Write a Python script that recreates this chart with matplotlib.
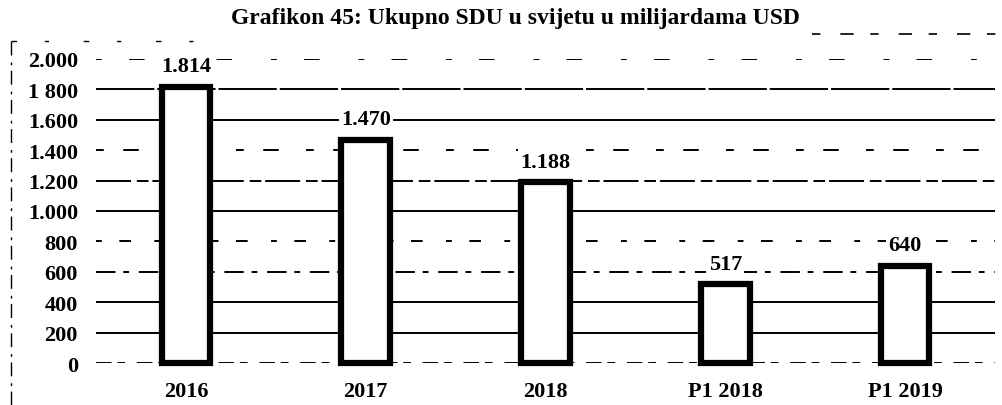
import matplotlib.pyplot as plt
from matplotlib.lines import Line2D

# Ukupno SDU u svijetu (milijarde USD)
kategorije = ['2016', '2017', '2018', 'P1 2018', 'P1 2019']
vrijednosti = [1814, 1470, 1188, 517, 640]
oznake = ['1.814', '1.470', '1.188', '517', '640']
y_podjela = [0, 200, 400, 600, 800, 1000, 1200, 1400, 1600, 1800, 2000]
y_oznake = ['0', '200', '400', '600', '800', '1.000', '1.200', '1.400', '1.600', '1 800', '2.000']

plt.rcParams['font.family'] = ['Liberation Serif', 'DejaVu Serif']
plt.rcParams['font.weight'] = 'bold'

fig = plt.figure(figsize=(10.02, 4.06), dpi=100)
ax = fig.add_axes([0.0958, 0.1034, 0.8972, 0.749])

# linije mreze - stil kao na skeniranom izvorniku
stilovi = {
    0: (0, (8, 3, 4, 6)),
    200: '-',
    400: '-',
    600: (0, (10, 4, 3, 5)),
    800: (0, (3, 9, 6, 12)),
    1000: '-',
    1200: (0, (18, 3, 6, 2)),
    1400: (0, (4, 10, 8, 14)),
    1600: '-',
    1800: (0, (30, 1.5)),
    2000: (0, (3, 14, 8, 20)),
}
for y in y_podjela:
    ax.axhline(y, color='black', lw=1.4, ls=stilovi[y], zorder=1)

x = range(len(kategorije))
ax.bar(x, vrijednosti, width=0.27, color='white', edgecolor='black',
       linewidth=4.5, zorder=3, clip_on=False)

for xi, v, t in zip(x, vrijednosti, oznake):
    ax.annotate(t, (xi, v), xytext=(0, 15), textcoords='offset points',
                ha='center', va='center', fontsize=16, fontweight='bold',
                zorder=4, bbox=dict(boxstyle='square,pad=0.1', fc='white', ec='none'))

ax.set_xlim(-0.5, 4.5)
ax.set_ylim(0, 2000)
ax.set_xticks(list(x))
ax.set_xticklabels(kategorije, fontsize=16, fontweight='bold')
ax.set_yticks(y_podjela)
ax.set_yticklabels(y_oznake, fontsize=16, fontweight='bold')
ax.tick_params(length=0)
ax.tick_params(axis='y', pad=13)
ax.tick_params(axis='x', pad=13)
for s in ax.spines.values():
    s.set_visible(False)

fig.text(0.514, 0.955, 'Grafikon 45: Ukupno SDU u svijetu u milijardama USD',
         ha='center', va='center', fontsize=17, fontweight='bold')

# okvir oko grafikona
fig.add_artist(Line2D([0.011, 0.011], [0.0, 0.897], color='black', lw=1.0,
                      ls=(0, (10, 4, 2, 5))))
fig.add_artist(Line2D([0.011, 0.215], [0.897, 0.897], color='black', lw=1.0,
                      ls=(0, (4, 20, 3, 25))))
fig.add_artist(Line2D([0.81, 1.0], [0.914, 0.914], color='black', lw=1.2,
                      ls=(0, (5, 12, 8, 10))))

fig.savefig('out.png', dpi=100)
